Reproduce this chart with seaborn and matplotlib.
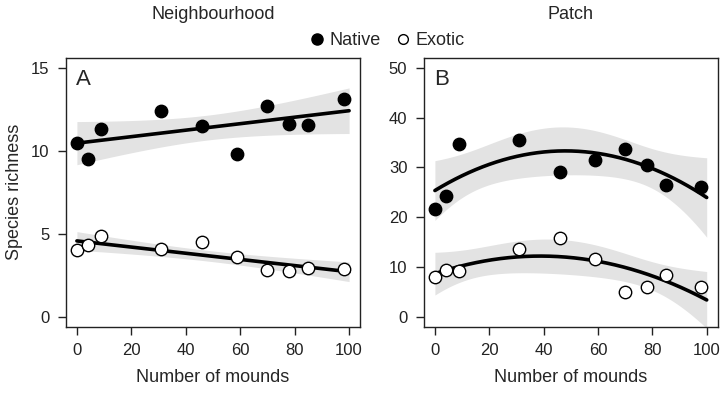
import seaborn as sns
import matplotlib.pyplot as plt
import numpy as np
import pandas as pd
from matplotlib.lines import Line2D

# values
mounds = [0, 4, 9, 31, 46, 59, 70, 78, 85, 98]
nb_native = [10.5, 9.5, 11.3, 12.4, 11.5, 9.8, 12.7, 11.6, 11.55, 13.15]
nb_exotic = [4.0, 4.35, 4.85, 4.05, 4.5, 3.6, 2.8, 2.75, 2.95, 2.9]
patch_native = [21.7, 24.3, 34.8, 35.5, 29.1, 31.5, 33.7, 30.5, 26.4, 26.1]
patch_exotic = [8.0, 9.4, 9.2, 13.5, 15.8, 11.6, 5.0, 6.0, 8.4, 6.0]

# two-sided 95% t quantiles for the residual degrees of freedom
t95 = {8: 2.306, 7: 2.365}

sns.set_style("ticks")
plt.rcParams["font.family"] = ["Liberation Sans", "DejaVu Sans"]

fig = plt.figure(figsize=(7.23, 3.94), dpi=100)
axA = fig.add_axes([0.0913, 0.171, 0.4066, 0.682])
axB = fig.add_axes([0.5865, 0.171, 0.406, 0.682])


def fit_band(x, y, order):
    # ordinary least squares polynomial fit with a 95% confidence band
    x = np.asarray(x, float)
    y = np.asarray(y, float)
    X = np.vander(x, order + 1)
    beta, *_ = np.linalg.lstsq(X, y, rcond=None)
    resid = y - X @ beta
    df = len(x) - order - 1
    s2 = resid @ resid / df
    cov = s2 * np.linalg.inv(X.T @ X)
    grid = np.linspace(0, 100, 200)
    G = np.vander(grid, order + 1)
    fit = G @ beta
    se = np.sqrt(np.einsum("ij,jk,ik->i", G, cov, G))
    return grid, fit, fit - t95[df] * se, fit + t95[df] * se


def panel(ax, native, exotic, order, yticks, ylim, letter, title):
    for vals, face in [(native, "black"), (exotic, "white")]:
        grid, fit, lo, hi = fit_band(mounds, vals, order)
        ax.fill_between(grid, lo, hi, color="#e3e3e3", lw=0, zorder=1)
        sns.lineplot(x=grid, y=fit, ax=ax, color="black", lw=2.6, zorder=3)
        sns.scatterplot(x=mounds, y=vals, ax=ax, color=face,
                        edgecolor="black", linewidth=1, s=80, zorder=4)
    ax.set_xlim(-4, 104)
    ax.set_ylim(*ylim)
    ax.set_xticks([0, 20, 40, 60, 80, 100])
    ax.set_yticks(yticks)
    for sp in ax.spines.values():
        sp.set_visible(True)
        sp.set_linewidth(1)
        sp.set_color("#222222")
    ax.tick_params(labelsize=12, length=6, width=1, pad=6, colors="#222222")
    ax.set_xlabel("Number of mounds", fontsize=13, labelpad=8)
    ax.set_ylabel("")
    ax.set_title(title, fontsize=13, pad=28)
    ax.text(0.035, 0.96, letter, transform=ax.transAxes, fontsize=16,
            va="top", ha="left")


panel(axA, nb_native, nb_exotic, 1, [0, 5, 10, 15], (-0.6, 15.6), "A", "Neighbourhood")
panel(axB, patch_native, patch_exotic, 2, [0, 10, 20, 30, 40, 50], (-2, 52), "B", "Patch")
axA.set_ylabel("Species richness", fontsize=13, labelpad=6)

handles = [Line2D([], [], marker="o", ls="", color="black", markersize=8),
           Line2D([], [], marker="o", ls="", markerfacecolor="white",
                  markeredgecolor="black", markersize=7)]
fig.legend(handles, ["Native", "Exotic"], loc="center", ncol=2,
           bbox_to_anchor=(0.533, 0.897), frameon=False, fontsize=13,
           handletextpad=0.1, columnspacing=0.6, handlelength=1.2)

fig.savefig("out.png", dpi=100)
